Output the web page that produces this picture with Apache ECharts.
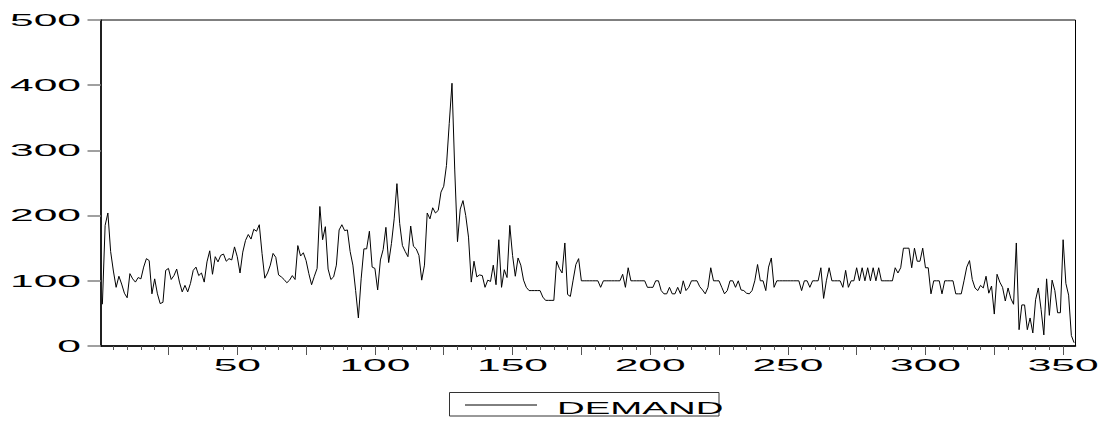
<!DOCTYPE html>
<html>
<head>
<meta charset="utf-8">
<script src="https://cdn.jsdelivr.net/npm/echarts@6/dist/echarts.min.js"></script>
<style>
  html, body { margin: 0; padding: 0; background: #ffffff; }
  #chart { width: 1107px; height: 423px; }
</style>
</head>
<body>
<div id="chart"></div>
<script>
// DEMAND, one value per observation (1 .. 354)
const demand = [
  64, 185, 204, 145, 115, 90, 107, 95, 81, 74,
  111, 103, 98, 105, 103, 121, 134, 131, 80, 103,
  80, 65, 67, 116, 119, 102, 108, 118, 98, 83,
  93, 83, 96, 116, 121, 108, 112, 98, 129, 146,
  110, 137, 129, 139, 141, 130, 134, 132, 152, 137,
  112, 144, 162, 171, 164, 179, 176, 186, 142, 104,
  112, 124, 142, 136, 109, 106, 102, 97, 101, 108,
  102, 154, 138, 143, 131, 111, 94, 107, 119, 214,
  163, 183, 118, 102, 106, 124, 178, 186, 177, 178,
  145, 124, 85, 43, 103, 149, 149, 176, 121, 119,
  86, 132, 148, 182, 128, 157, 195, 249, 188, 154,
  145, 137, 184, 153, 149, 139, 101, 124, 204, 195,
  212, 204, 208, 236, 245, 277, 341, 403, 270, 160,
  210, 223, 200, 167, 98, 130, 106, 109, 108, 90,
  101, 99, 124, 94, 163, 90, 117, 105, 185, 139,
  107, 135, 124, 101, 90, 85, 85, 85, 85, 85,
  75, 70, 70, 70, 70, 130, 119, 112, 158, 79,
  76, 101, 125, 134, 100, 100, 100, 100, 100, 100,
  100, 90, 100, 100, 100, 100, 100, 100, 100, 110,
  90, 120, 100, 100, 100, 100, 100, 100, 90, 90,
  90, 100, 100, 85, 80, 80, 90, 80, 80, 90,
  80, 100, 85, 90, 100, 100, 100, 91, 86, 80,
  90, 120, 100, 100, 100, 90, 80, 85, 100, 100,
  90, 100, 86, 85, 81, 80, 85, 100, 125, 100,
  100, 85, 121, 135, 90, 100, 100, 100, 100, 100,
  100, 100, 100, 100, 85, 100, 100, 90, 100, 100,
  100, 120, 73, 100, 120, 100, 100, 100, 100, 90,
  116, 90, 100, 100, 120, 100, 120, 100, 120, 100,
  120, 100, 120, 100, 100, 100, 100, 100, 120, 112,
  120, 150, 150, 150, 120, 150, 130, 130, 150, 120,
  120, 80, 100, 100, 100, 80, 100, 100, 100, 100,
  80, 80, 80, 100, 121, 131, 102, 89, 85, 93,
  89, 107, 81, 92, 49, 110, 98, 90, 69, 89,
  73, 64, 158, 25, 63, 63, 25, 43, 20, 71,
  89, 56, 17, 103, 47, 101, 85, 51, 51, 163,
  96, 78, 16, 5
];

// observation numbers used as categories
const observations = demand.map((_, i) => String(i + 1));

// tick labels
const xTickLabels = ['50', '100', '150', '200', '250', '300', '350'];
const yTickLabels = [0, 100, 200, 300, 400, 500];

const seriesName = 'DEMAND';

const FONT = '"Liberation Sans", Arial, Helvetica, sans-serif';
const TICK_FONT_SIZE = 17;
const TICK_STRETCH = 2.5;

const chart = echarts.init(document.getElementById('chart'), null, { renderer: 'svg' });

chart.setOption({
  animation: false,
  backgroundColor: '#ffffff',
  grid: {
    left: 101,
    top: 20,
    width: 974.5,
    height: 326,
    show: true,
    borderColor: '#000000',
    borderWidth: 1,
    backgroundColor: 'transparent',
    containLabel: false
  },
  xAxis: [
    {
      // minor ticks every 5 observations
      type: 'category',
      data: observations,
      boundaryGap: true,
      axisLine: { show: true, lineStyle: { color: '#000000', width: 1.5 } },
      axisTick: {
        show: true,
        alignWithLabel: true,
        interval: (i) => (i + 1) % 5 === 0,
        length: 4,
        lineStyle: { color: '#555555', width: 1 }
      },
      axisLabel: { show: false },
      splitLine: { show: false }
    },
    {
      // major ticks every 25 observations
      type: 'category',
      data: observations,
      gridIndex: 0,
      position: 'bottom',
      boundaryGap: true,
      axisLine: { show: false },
      axisTick: {
        show: true,
        alignWithLabel: true,
        interval: (i) => (i + 1) % 25 === 0,
        length: 9,
        lineStyle: { color: '#555555', width: 1 }
      },
      axisLabel: { show: false },
      splitLine: { show: false }
    }
  ],
  yAxis: {
    type: 'value',
    min: 0,
    max: 500,
    interval: 100,
    axisLine: { show: true, lineStyle: { color: '#000000', width: 1.5 } },
    axisTick: { show: true, length: 13.5, lineStyle: { color: '#808080', width: 1.5 } },
    axisLabel: { show: false },
    splitLine: { show: false }
  },
  series: [
    {
      name: seriesName,
      type: 'line',
      xAxisIndex: 0,
      yAxisIndex: 0,
      data: demand,
      showSymbol: false,
      symbol: 'none',
      lineStyle: { color: '#000000', width: 1 },
      emphasis: { disabled: true }
    }
  ]
});

// Wide (horizontally stretched) tick labels and the legend box
const graphics = [];

yTickLabels.forEach((v) => {
  const y = chart.convertToPixel({ yAxisIndex: 0 }, v);
  graphics.push({
    type: 'text',
    x: 81,
    y: y,
    scaleX: TICK_STRETCH,
    silent: true,
    style: {
      text: String(v),
      fontFamily: FONT,
      fontSize: TICK_FONT_SIZE,
      fill: '#000000',
      textAlign: 'right',
      align: 'right',
      textVerticalAlign: 'middle',
      verticalAlign: 'middle'
    }
  });
});

xTickLabels.forEach((label) => {
  const x = chart.convertToPixel({ xAxisIndex: 0 }, label);
  graphics.push({
    type: 'text',
    x: x,
    y: 365,
    scaleX: TICK_STRETCH,
    silent: true,
    style: {
      text: label,
      fontFamily: FONT,
      fontSize: TICK_FONT_SIZE,
      fill: '#000000',
      textAlign: 'center',
      align: 'center',
      textVerticalAlign: 'middle',
      verticalAlign: 'middle'
    }
  });
});

// legend: framed box with a line sample and the series name
graphics.push({
  type: 'rect',
  silent: true,
  shape: { x: 449.5, y: 392.5, width: 269.5, height: 23.5 },
  style: { fill: 'none', stroke: '#333333', lineWidth: 1 }
});
graphics.push({
  type: 'line',
  silent: true,
  shape: { x1: 465, y1: 405, x2: 537, y2: 405 },
  style: { stroke: '#000000', lineWidth: 1 }
});
graphics.push({
  type: 'text',
  x: 557,
  y: 408.5,
  scaleX: 2.4,
  silent: true,
  style: {
    text: seriesName,
    fontFamily: FONT,
    fontSize: 16,
    fill: '#000000',
    textAlign: 'left',
    align: 'left',
    textVerticalAlign: 'middle',
    verticalAlign: 'middle'
  }
});

chart.setOption({ graphic: { elements: graphics } });
</script>
</body>
</html>
